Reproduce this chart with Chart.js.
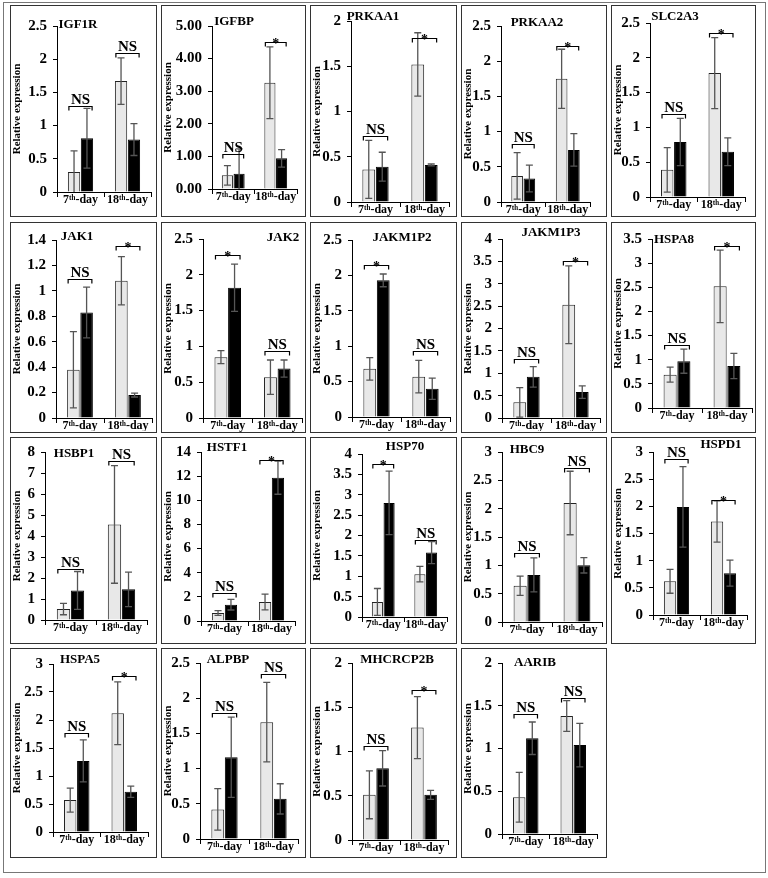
<!DOCTYPE html>
<html><head><meta charset="utf-8">
<script src="https://cdn.jsdelivr.net/npm/chart.js@4.4.1/dist/chart.umd.min.js"></script>
<style>
html,body{margin:0;padding:0;background:#fff;}
#page{position:relative;width:768px;height:878px;overflow:hidden;background:#fff;}
#frame{position:absolute;left:3px;top:2px;width:763px;height:871px;border:1px solid #777;box-sizing:border-box;}
.panel{position:absolute;}
.panel canvas{position:absolute;left:0;top:0;}
.panel .edge{position:absolute;left:0;top:0;right:0;bottom:0;border:1.6px solid #333;box-sizing:border-box;pointer-events:none;}
</style></head><body><div id="page"><div id="frame"></div></div>
<script>
// ---------------- DATA ----------------
const genes = ['IGF1R','IGFBP','PRKAA1','PRKAA2','SLC2A3',
  'JAK1','JAK2','JAKM1P2','JAKM1P3','HSPA8',
  'HSBP1','HSTF1','HSP70','HBC9','HSPD1',
  'HSPA5','ALPBP','MHCRCP2B','AARIB'];
const days = ['7ᵗʰ-day','18ᵗʰ-day'];
const yMaxes = [2.5,5,2,2.5,2.5, 1.4,2.5,2.5,4,3.5, 8,14,4,3,3, 3,2.5,2,2];
const ySteps = [0.5,1,0.5,0.5,0.5, 0.2,0.5,0.5,0.5,0.5, 1,2,0.5,0.5,0.5, 0.5,0.5,0.5,0.5];
const tickDecimals = [null,2,null,null,null, null,null,null,null,null, null,null,null,null,null, null,null,null,null];
// light (open) bars
const lightMeans = [[0.30,1.67],[0.42,3.26],[0.36,1.52],[0.37,1.75],[0.39,1.78],
  [0.38,1.08],[0.85,0.57],[0.68,0.57],[0.35,2.53],[0.69,2.52],
  [0.52,4.55],[0.66,1.57],[0.37,1.05],[0.64,2.10],[0.62,1.72],
  [0.57,2.12],[0.42,1.66],[0.51,1.27],[0.43,1.38]];
const lightErrs = [[0.32,0.35],[0.30,1.10],[0.32,0.35],[0.33,0.42],[0.32,0.51],
  [0.30,0.19],[0.09,0.24],[0.16,0.23],[0.33,0.87],[0.155,0.75],
  [0.27,2.80],[0.20,0.65],[0.33,0.19],[0.17,0.56],[0.22,0.38],
  [0.215,0.56],[0.295,0.565],[0.27,0.35],[0.29,0.18]];
// dark (filled) bars
const darkMeans = [[0.81,0.79],[0.47,0.94],[0.39,0.41],[0.335,0.74],[0.79,0.65],
  [0.83,0.18],[1.82,0.69],[1.93,0.40],[0.92,0.58],[0.97,0.87],
  [1.41,1.46],[1.35,11.87],[2.80,1.58],[0.83,1.00],[1.99,0.77],
  [1.27,0.72],[1.16,0.57],[0.81,0.51],[1.12,1.04]];
const darkErrs = [[0.45,0.24],[0.76,0.27],[0.16,0.01],[0.19,0.23],[0.34,0.20],
  [0.20,0.015],[0.33,0.12],[0.09,0.15],[0.23,0.14],[0.25,0.26],
  [0.90,0.82],[0.44,1.37],[0.78,0.27],[0.30,0.135],[0.74,0.24],
  [0.375,0.10],[0.57,0.215],[0.20,0.05],[0.19,0.255]];
const bracketLevels = [[1.30,2.09],[1.08,4.52],[0.73,1.81],[0.83,2.22],[1.19,2.36],
  [1.09,1.35],[2.27,0.93],[2.14,0.93],[1.31,3.51],[1.30,3.36],
  [2.41,7.56],[2.31,13.3],[3.75,1.89],[1.21,2.72],[2.87,2.12],
  [1.76,2.79],[1.79,2.34],[1.06,1.69],[1.40,1.59]];
const sigLabels = [['NS','NS'],['NS','*'],['NS','*'],['NS','*'],['NS','*'],
  ['NS','*'],['*','NS'],['*','NS'],['NS','*'],['NS','*'],
  ['NS','NS'],['NS','*'],['*','NS'],['NS','NS'],['NS','*'],
  ['NS','*'],['NS','NS'],['NS','*'],['NS','NS']];

// ---------------- LAYOUT (page pixels) ----------------
const colX = [[10,157],[161,306],[310,457],[461,607],[611,756]];
const rowY = [[5,217],[222,433],[437,644],[648,858]];
// [axisX, topY, zeroY, rightX]
const plotFrames = [[57,26,192,151],[212,26,189,297],[351,21,202,449],[501,26,203,590],[650,23,197,745],
  [56,240,420,152],[203,239,418,302],[352,240,417,450],[502,239,420,600],[652,239,408,752],
  [45,452,620,147],[201,451,621,295],[362,454,617,447],[502,450,622,602],[653,449,615,747],
  [53,664,832,148],[200,660,839,298],[352,660,840,448],[502,663,834,597]];
const titleSpots = [[78,25],[234,22],[373,17],[537,23],[675,17],
  [77,237],[283,238],[402,238],[551,233],[674,240],
  [74,454],[227,448],[405,447],[527,450],[721,445],
  [80,660],[228,660],[397,660],[535,663]];

const SERIF = '"Liberation Serif","Times New Roman",serif';

const annot = {
  id: 'annot',
  afterDatasetsDraw(chart, args, opts) {
    const i = opts.idx;
    const ctx = chart.ctx, ys = chart.scales.y;
    const metas = [chart.getDatasetMeta(0), chart.getDatasetMeta(1)];
    const means = [lightMeans[i], darkMeans[i]];
    const errs = [lightErrs[i], darkErrs[i]];
    ctx.save();
    ctx.strokeStyle = '#555'; ctx.lineWidth = 1.3;
    metas.forEach((m, d) => {
      m.data.forEach((bar, j) => {
        const v = means[d][j], e = errs[d][j];
        const yt = ys.getPixelForValue(v + e);
        const lo = Math.max(v - e, 0);
        const yb = ys.getPixelForValue(lo);
        const x = bar.x;
        ctx.beginPath();
        ctx.moveTo(x, yt); ctx.lineTo(x, yb);
        ctx.moveTo(x - 3.5, yt); ctx.lineTo(x + 3.5, yt);
        if (lo > 0) { ctx.moveTo(x - 3.5, yb); ctx.lineTo(x + 3.5, yb); }
        ctx.stroke();
      });
    });
    ctx.strokeStyle = '#000'; ctx.fillStyle = '#000'; ctx.lineWidth = 1.2;
    for (let j = 0; j < 2; j++) {
      const a = metas[0].data[j], b = metas[1].data[j];
      const xl = a.x - a.width / 2 + 1, xr = b.x + b.width / 2 - 1;
      const y = Math.round(ys.getPixelForValue(bracketLevels[i][j])) + 0.5;
      ctx.beginPath();
      ctx.moveTo(xl, y + 4); ctx.lineTo(xl, y); ctx.lineTo(xr, y); ctx.lineTo(xr, y + 4);
      ctx.stroke();
      const lab = sigLabels[i][j];
      ctx.textAlign = 'center'; ctx.textBaseline = 'alphabetic';
      if (lab === 'NS') { ctx.font = 'bold 15px ' + SERIF; ctx.fillText(lab, (xl + xr) / 2, y - 3); }
      else { ctx.font = 'bold 14px ' + SERIF; ctx.fillText(lab, (xl + xr) / 2, y + 5); }
    }
    ctx.restore();
  },
  afterDraw(chart, args, opts) {
    const i = opts.idx, ctx = chart.ctx;
    ctx.save();
    ctx.font = 'bold 13px ' + SERIF; ctx.fillStyle = '#000';
    ctx.textAlign = 'center'; ctx.textBaseline = 'middle';
    ctx.fillText(genes[i], titleSpots[i][0] - opts.ox, titleSpots[i][1] - opts.oy);
    ctx.restore();
  }
};

const page = document.getElementById('page');
genes.forEach((g, i) => {
  const col = colX[i % 5], row = rowY[Math.floor(i / 5)];
  const [x0, x1] = col, [y0, y1] = row;
  const w = x1 - x0, h = y1 - y0;
  const [axisX, topY, zeroY, rightX] = plotFrames[i];
  const div = document.createElement('div');
  div.className = 'panel';
  div.style.left = x0 + 'px'; div.style.top = y0 + 'px';
  div.style.width = w + 'px'; div.style.height = h + 'px';
  const cv = document.createElement('canvas');
  cv.width = w; cv.height = h;
  cv.style.width = w + 'px'; cv.style.height = h + 'px';
  div.appendChild(cv);
  const edge = document.createElement('div'); edge.className = 'edge';
  div.appendChild(edge);
  page.appendChild(div);
  const dec = tickDecimals[i];
  new Chart(cv, {
    type: 'bar',
    data: {
      labels: days,
      datasets: [
        { data: lightMeans[i], backgroundColor: '#e8e8e8', borderColor: '#222', borderWidth: 1,
          categoryPercentage: 0.55, barPercentage: 0.95 },
        { data: darkMeans[i], backgroundColor: '#000', borderColor: '#000', borderWidth: 1,
          categoryPercentage: 0.55, barPercentage: 0.95 }
      ]
    },
    options: {
      responsive: false, animation: false, events: [],
      layout: { padding: { left: 0, top: topY - y0, right: x1 - rightX, bottom: 0 } },
      plugins: { legend: { display: false }, tooltip: { enabled: false }, annot: { idx: i, ox: x0, oy: y0 } },
      scales: {
        x: {
          grid: { display: true, drawOnChartArea: false, drawTicks: true, tickLength: 5, color: '#000', offset: true },
          border: { display: true, color: '#000', width: 1 },
          ticks: { color: '#000', font: { family: SERIF, size: 12, weight: 'bold' }, padding: -4, autoSkip: false, maxRotation: 0, minRotation: 0 },
          afterFit(s) { s.height = y1 - zeroY; }
        },
        y: {
          min: 0, max: yMaxes[i],
          grid: { drawOnChartArea: false, drawTicks: true, tickLength: 4, color: '#000' },
          border: { display: true, color: '#000', width: 1 },
          ticks: { stepSize: ySteps[i], color: '#000', padding: 6, autoSkip: false,
            font: { family: SERIF, size: 15, weight: 'bold' },
            callback: v => dec ? Number(v).toFixed(dec) : String(Math.round(Number(v) * 100) / 100) },
          title: { display: true, text: 'Relative expression', color: '#000',
            font: { family: SERIF, size: 11, weight: 'bold' }, padding: { top: 1, bottom: 0 } },
          afterFit(s) { s.width = axisX - x0; }
        }
      }
    },
    plugins: [annot]
  });
});
</script></body></html>
